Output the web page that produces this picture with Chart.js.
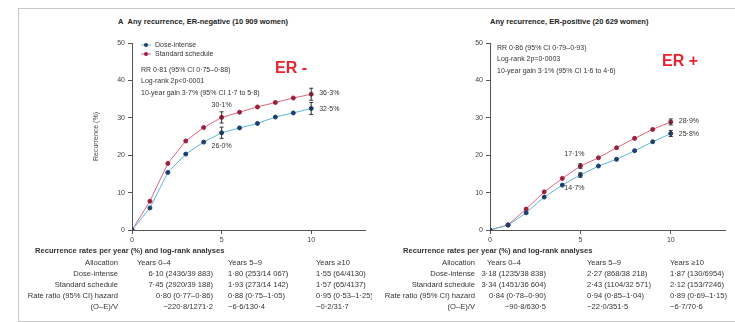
<!DOCTYPE html>
<html>
<head>
<meta charset="utf-8">
<script src="https://cdn.jsdelivr.net/npm/chart.js"></script>
<style>
  body { margin: 0; background: #fff; font-family: "Liberation Sans", Arial, sans-serif; }
  #wrap { position: relative; width: 735px; height: 322px; overflow: hidden; }
  canvas { position: absolute; left: 0; top: 0; }
  .frame { position: absolute; left: 18px; top: 8px; width: 740px; height: 312px; border: 1px solid #c8c8c8; }
  .title { position: absolute; top: 17px; font-size: 7.5px; font-weight: bold; color: #222; white-space: nowrap; }
  .tbl { position: absolute; top: 246px; font-size: 7.6px; color: #333; overflow: hidden; height: 70px; }
  .tbl div { position: absolute; white-space: nowrap; }
</style>
</head>
<body>
<div id="wrap">
  <div class="frame"></div>
  <div class="title" style="left:118px">A&nbsp;&nbsp;Any recurrence, ER-negative (10 909 women)</div>
  <div class="title" style="left:490px">Any recurrence, ER-positive (20 629 women)</div>
  <canvas id="neg" width="735" height="322"></canvas>
  <canvas id="pos" width="735" height="322"></canvas>
  <div class="tbl" id="tblNeg" style="left:0;width:372px"></div>
  <div class="tbl" id="tblPos" style="left:372px;width:363px"></div>
</div>
<script>
// years since start, 0..10
const years = [0, 1, 2, 3, 4, 5, 6, 7, 8, 9, 10];
const xTicks = [0, 5, 10];

// ER-negative cumulative recurrence (%)
const erNegDose = [0, 5.9, 15.4, 20.3, 23.5, 26.0, 27.3, 28.5, 30.2, 31.3, 32.5];
const erNegStd = [0, 7.7, 17.8, 23.8, 27.4, 30.1, 31.5, 32.9, 34.1, 35.3, 36.3];
const erNegErr = { 5: 1.5, 10: 1.6 };

// ER-positive cumulative recurrence (%)
const erPosDose = [0, 1.3, 4.6, 8.8, 12.0, 14.7, 17.1, 18.9, 21.2, 23.6, 25.8];
const erPosStd = [0, 1.4, 5.6, 10.2, 13.8, 17.1, 19.3, 22.0, 24.5, 26.9, 28.9];
const erPosErr = { 5: 0.6, 10: 0.8 };

const negStats = ['RR 0·81 (95% CI 0·75–0·88)', 'Log-rank 2p<0·0001', '10-year gain 3·7% (95% CI 1·7 to 5·8)'];
const posStats = ['RR 0·86 (95% CI 0·79–0·93)', 'Log-rank 2p=0·0003', '10-year gain 3·1% (95% CI 1·6 to 4·6)'];

const tblHeader = ['Allocation', 'Years 0–4', 'Years 5–9', 'Years ≥10'];
const tblLabels = ['Dose-intense', 'Standard schedule', 'Rate ratio (95% CI) hazard', '(O–E)/V'];
const negRows = [
  ['6·10 (2436/39 883)', '1·80 (253/14 067)', '1·55 (64/4130)'],
  ['7·45 (2920/39 188)', '1·93 (273/14 142)', '1·57 (65/4137)'],
  ['0·80 (0·77–0·86)', '0·88 (0·75–1·05)', '0·95 (0·53–1·25)'],
  ['−220·8/1271·2', '−6·6/130·4', '−0·2/31·7']
];
const posRows = [
  ['3·18 (1235/38 838)', '2·27 (868/38 218)', '1·87 (130/6954)'],
  ['3·34 (1451/36 604)', '2·43 (1104/32 571)', '2·12 (153/7246)'],
  ['0·84 (0·78–0·90)', '0·94 (0·85–1·04)', '0·89 (0·69–1·15)'],
  ['−90·8/630·5', '−22·0/351·5', '−6·7/70·6']
];

const BLUE_LINE = '#5bb8d8', BLUE_PT = '#1d3f6e';
const RED_LINE = '#e06482', RED_PT = '#9c1f3c';
const FONT = 'Liberation Sans';

function pts(arr) { return years.map((x, i) => ({ x, y: arr[i] })); }

function ds(label, arr, line, pt) {
  return {
    label, data: pts(arr), borderColor: line, borderWidth: 1,
    pointRadius: 2, pointBackgroundColor: pt, pointBorderColor: pt, tension: 0
  };
}

const overlay = {
  id: 'overlay',
  afterDatasetsDraw(chart, args, o) {
    const { ctx, scales: { x, y } } = chart;
    ctx.save();
    // error bars
    chart.data.datasets.forEach(d => {
      Object.entries(o.err).forEach(([yr, e]) => {
        const v = d.data[+yr].y;
        const px = x.getPixelForValue(+yr);
        const lo = y.getPixelForValue(v - e), hi = y.getPixelForValue(v + e);
        ctx.strokeStyle = '#333'; ctx.lineWidth = 1;
        ctx.beginPath();
        ctx.moveTo(px, lo); ctx.lineTo(px, hi);
        ctx.moveTo(px - 2, lo); ctx.lineTo(px + 2, lo);
        ctx.moveTo(px - 2, hi); ctx.lineTo(px + 2, hi);
        ctx.stroke();
      });
    });
    // value labels at 5 and 10 years
    ctx.font = '7px ' + FONT; ctx.fillStyle = '#333'; ctx.textBaseline = 'middle';
    const [dose, std] = chart.data.datasets;
    const fmt = v => v.toFixed(1).replace('.', '·') + '%';
    ctx.textAlign = 'center';
    ctx.fillText(fmt(std.data[5].y), x.getPixelForValue(5) + o.d5, y.getPixelForValue(std.data[5].y) - 12);
    ctx.fillText(fmt(dose.data[5].y), x.getPixelForValue(5) + o.d5, y.getPixelForValue(dose.data[5].y) + 13);
    ctx.textAlign = 'left';
    ctx.fillText(fmt(std.data[10].y), x.getPixelForValue(10) + 8, y.getPixelForValue(std.data[10].y) - 1);
    ctx.fillText(fmt(dose.data[10].y), x.getPixelForValue(10) + 8, y.getPixelForValue(dose.data[10].y) + 1);
    // stats text
    o.stats.forEach((t, i) => ctx.fillText(t, o.sx, o.sy + i * 11.5));
    // legend
    if (o.legend) {
      chart.data.datasets.forEach((d, i) => {
        const ly = o.legend.y + i * 9;
        ctx.strokeStyle = d.borderColor; ctx.beginPath();
        ctx.moveTo(o.legend.x - 5, ly); ctx.lineTo(o.legend.x + 5, ly); ctx.stroke();
        ctx.fillStyle = d.pointBackgroundColor; ctx.beginPath();
        ctx.arc(o.legend.x, ly, 2, 0, Math.PI * 2); ctx.fill();
        ctx.fillStyle = '#333'; ctx.fillText(d.label, o.legend.x + 9, ly);
      });
    }
    // big ER tag
    ctx.font = 'bold 16px ' + FONT; ctx.fillStyle = '#e8232c';
    ctx.fillText(o.tag, o.tx, o.ty);
    ctx.restore();
  }
};

function makeChart(id, dose, std, padL, padR, yTitle, extra) {
  return new Chart(document.getElementById(id), {
    type: 'line',
    data: { datasets: [ds('Dose-intense', dose, BLUE_LINE, BLUE_PT), ds('Standard schedule', std, RED_LINE, RED_PT)] },
    options: {
      responsive: false, animation: false, devicePixelRatio: 1,
      layout: { padding: { left: padL, right: padR, top: 43, bottom: 78 } },
      plugins: { legend: { display: false }, tooltip: { enabled: false }, overlay: extra },
      scales: {
        x: {
          type: 'linear', min: 0, max: 13,
          afterBuildTicks: s => { s.ticks = xTicks.map(v => ({ value: v })); },
          afterFit: s => { s.height = 14; },
          grid: { drawOnChartArea: false, tickLength: 4, color: '#555' },
          border: { color: '#555' },
          ticks: { font: { size: 7, family: FONT }, color: '#444', padding: 2 }
        },
        y: {
          min: 0, max: 50,
          afterFit: s => { s.width = 40; },
          grid: { drawOnChartArea: false, tickLength: 4, color: '#555' },
          border: { color: '#555' },
          ticks: { stepSize: 10, font: { size: 7, family: FONT }, color: '#444', padding: 3 },
          title: { display: !!yTitle, text: yTitle, font: { size: 7, family: FONT }, color: '#444', padding: 0 }
        }
      }
    },
    plugins: [overlay]
  });
}

makeChart('neg', erNegDose, erNegStd, 92, 370, 'Recurrence (%)', {
  err: erNegErr, d5: 0, stats: negStats, sx: 141, sy: 70,
  legend: { x: 146, y: 45 }, tag: 'ER -', tx: 275, ty: 69
});
makeChart('pos', erPosDose, erPosStd, 450, 10, '', {
  err: erPosErr, d5: -6, stats: posStats, sx: 497, sy: 48,
  legend: null, tag: 'ER +', tx: 662, ty: 62
});

// col positions relative to table box: allocation right edge, col1 header left,
// col1 values right edge, col2 left, col3 left
function buildTable(el, heading, headX, allocR, c1H, c1R, c2L, c3L, rows) {
  const w = el.offsetWidth;
  const add = (txt, style) => {
    const d = document.createElement('div');
    d.textContent = txt; Object.assign(d.style, style); el.appendChild(d);
  };
  add(heading, { left: headX + 'px', top: '0px', fontWeight: 'bold' });
  const rowTop = i => (12 + i * 11) + 'px';
  add(tblHeader[0], { right: (w - allocR) + 'px', top: rowTop(0) });
  add(tblHeader[1], { left: c1H + 'px', top: rowTop(0) });
  add(tblHeader[2], { left: c2L + 'px', top: rowTop(0) });
  add(tblHeader[3], { left: c3L + 'px', top: rowTop(0) });
  rows.forEach((r, i) => {
    add(tblLabels[i], { right: (w - allocR) + 'px', top: rowTop(i + 1) });
    add(r[0], { right: (w - c1R) + 'px', top: rowTop(i + 1) });
    add(r[1], { left: c2L + 'px', top: rowTop(i + 1) });
    add(r[2], { left: c3L + 'px', top: rowTop(i + 1) });
  });
}

buildTable(document.getElementById('tblNeg'), 'Recurrence rates per year (%) and log-rank analyses',
  35, 118, 137, 213, 228, 316, negRows);
buildTable(document.getElementById('tblPos'), 'Recurrence rates per year (%) and log-rank analyses',
  31, 103, 115, 174, 215, 298, posRows);
</script>
</body>
</html>
